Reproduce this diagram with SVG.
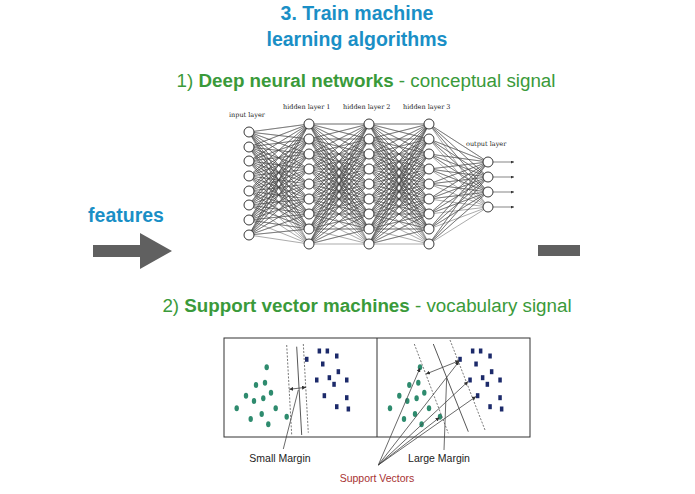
<svg xmlns="http://www.w3.org/2000/svg" xmlns:xlink="http://www.w3.org/1999/xlink" width="695" height="494" viewBox="0 0 695 494">
<style>
.t{font-family:"Liberation Sans",Arial,sans-serif}
.blue{fill:#1a8fc6;font-weight:bold}
.green{fill:#3a9a3a;font-size:18.8px}
.nn{fill:none;stroke:#444;stroke-width:0.45}
.nd{fill:#fff;stroke:#222;stroke-width:0.9}
.lbl{font-family:"DejaVu Serif",serif;font-size:6.5px;fill:#222}
.g{fill:#2e8b6e}
.b{fill:#1c2a6a}
.dash{stroke:#555;stroke-width:0.8;stroke-dasharray:2 1.5;fill:none}
.sol{stroke:#444;stroke-width:0.9;fill:none}
.ptr{stroke:#444;stroke-width:0.8;fill:none}
</style>
<defs>
<marker id="ah" viewBox="0 0 6 6" refX="6" refY="3" markerWidth="5" markerHeight="5" orient="auto-start-reverse"><path d="M0 0L6 3L0 6z" fill="#333"/></marker>
<path id="h2h" class="nn" d="M0 124L60 124 0 124 60 139 0 124 60 154 0 124 60 169 0 124 60 184 0 124 60 199 0 124 60 214 0 124 60 229 0 124 60 244
M0 139L60 124 0 139 60 139 0 139 60 154 0 139 60 169 0 139 60 184 0 139 60 199 0 139 60 214 0 139 60 229 0 139 60 244
M0 154L60 124 0 154 60 139 0 154 60 154 0 154 60 169 0 154 60 184 0 154 60 199 0 154 60 214 0 154 60 229 0 154 60 244
M0 169L60 124 0 169 60 139 0 169 60 154 0 169 60 169 0 169 60 184 0 169 60 199 0 169 60 214 0 169 60 229 0 169 60 244
M0 184L60 124 0 184 60 139 0 184 60 154 0 184 60 169 0 184 60 184 0 184 60 199 0 184 60 214 0 184 60 229 0 184 60 244
M0 199L60 124 0 199 60 139 0 199 60 154 0 199 60 169 0 199 60 184 0 199 60 199 0 199 60 214 0 199 60 229 0 199 60 244
M0 214L60 124 0 214 60 139 0 214 60 154 0 214 60 169 0 214 60 184 0 214 60 199 0 214 60 214 0 214 60 229 0 214 60 244
M0 229L60 124 0 229 60 139 0 229 60 154 0 229 60 169 0 229 60 184 0 229 60 199 0 229 60 214 0 229 60 229 0 229 60 244
M0 244L60 124 0 244 60 139 0 244 60 154 0 244 60 169 0 244 60 184 0 244 60 199 0 244 60 214 0 244 60 229 0 244 60 244"/>
<g id="hl">
<circle class="nd" cx="0" cy="124" r="5"/><circle class="nd" cx="0" cy="139" r="5"/><circle class="nd" cx="0" cy="154" r="5"/><circle class="nd" cx="0" cy="169" r="5"/><circle class="nd" cx="0" cy="184" r="5"/><circle class="nd" cx="0" cy="199" r="5"/><circle class="nd" cx="0" cy="214" r="5"/><circle class="nd" cx="0" cy="229" r="5"/><circle class="nd" cx="0" cy="244" r="5"/>
</g>
<g id="pts">
<ellipse class="g" cx="266.7" cy="367.3" rx="2.2" ry="3"/><ellipse class="g" cx="256" cy="385" rx="2.2" ry="3"/><ellipse class="g" cx="265" cy="382.7" rx="2.2" ry="3"/><ellipse class="g" cx="246" cy="395.7" rx="2.2" ry="3"/><ellipse class="g" cx="254" cy="401" rx="2.2" ry="3"/><ellipse class="g" cx="263.3" cy="398.3" rx="2.2" ry="3"/><ellipse class="g" cx="271" cy="392.7" rx="2.2" ry="3"/><ellipse class="g" cx="236.7" cy="408.3" rx="2.2" ry="3"/><ellipse class="g" cx="250.7" cy="419" rx="2.2" ry="3"/><ellipse class="g" cx="261.7" cy="414" rx="2.2" ry="3"/><ellipse class="g" cx="275.7" cy="408.3" rx="2.2" ry="3"/><ellipse class="g" cx="268.3" cy="424.3" rx="2.2" ry="3"/><ellipse class="g" cx="286.7" cy="416.7" rx="2.2" ry="3"/>
<rect class="b" x="305" y="356.8" width="3.5" height="5"/><rect class="b" x="317.6" y="348.5" width="3.5" height="5"/><rect class="b" x="325.6" y="348.5" width="3.5" height="5"/><rect class="b" x="335" y="353.5" width="3.5" height="5"/><rect class="b" x="321" y="361.5" width="3.5" height="5"/><rect class="b" x="336.6" y="369.2" width="3.5" height="5"/><rect class="b" x="327.6" y="375.2" width="3.5" height="5"/><rect class="b" x="315" y="377.5" width="3.5" height="5"/><rect class="b" x="332.3" y="381.8" width="3.5" height="5"/><rect class="b" x="345" y="377.5" width="3.5" height="5"/><rect class="b" x="322.6" y="393.2" width="3.5" height="5"/><rect class="b" x="345" y="395.2" width="3.5" height="5"/><rect class="b" x="335" y="404.2" width="3.5" height="5"/><rect class="b" x="346.6" y="406.5" width="3.5" height="5"/>
</g>
</defs>

<g id="title">
<text class="t blue" x="357" y="20" font-size="19.5" text-anchor="middle">3. Train machine</text>
<text class="t blue" x="357" y="46" font-size="19.5" text-anchor="middle">learning algorithms</text>
</g>
<g id="heading-dnn"><text class="t green" x="366" y="87" text-anchor="middle">1) <tspan font-weight="bold">Deep neural networks</tspan> - conceptual signal</text></g>
<g id="heading-svm"><text class="t green" x="367" y="312" text-anchor="middle">2) <tspan font-weight="bold">Support vector machines</tspan> - vocabulary signal</text></g>

<g id="features">
<text class="t blue" x="126" y="222" font-size="19.5" text-anchor="middle">features</text>
<path d="M93 245H140V233L172 251L140 269V257H93z" fill="#606060"/>
</g>
<g id="output-bar"><rect x="538" y="245" width="42" height="11" fill="#606060"/></g>

<g id="connectors">
<path class="nn" transform="translate(249,0)" d="M0 132L60 124 0 132 60 139 0 132 60 154 0 132 60 169 0 132 60 184 0 132 60 199 0 132 60 214 0 132 60 229 0 132 60 244
M0 147L60 124 0 147 60 139 0 147 60 154 0 147 60 169 0 147 60 184 0 147 60 199 0 147 60 214 0 147 60 229 0 147 60 244
M0 161L60 124 0 161 60 139 0 161 60 154 0 161 60 169 0 161 60 184 0 161 60 199 0 161 60 214 0 161 60 229 0 161 60 244
M0 176L60 124 0 176 60 139 0 176 60 154 0 176 60 169 0 176 60 184 0 176 60 199 0 176 60 214 0 176 60 229 0 176 60 244
M0 191L60 124 0 191 60 139 0 191 60 154 0 191 60 169 0 191 60 184 0 191 60 199 0 191 60 214 0 191 60 229 0 191 60 244
M0 205L60 124 0 205 60 139 0 205 60 154 0 205 60 169 0 205 60 184 0 205 60 199 0 205 60 214 0 205 60 229 0 205 60 244
M0 220L60 124 0 220 60 139 0 220 60 154 0 220 60 169 0 220 60 184 0 220 60 199 0 220 60 214 0 220 60 229 0 220 60 244
M0 235L60 124 0 235 60 139 0 235 60 154 0 235 60 169 0 235 60 184 0 235 60 199 0 235 60 214 0 235 60 229 0 235 60 244"/>
<use xlink:href="#h2h" href="#h2h" transform="translate(309,0)"/>
<use xlink:href="#h2h" href="#h2h" transform="translate(369,0)"/>
<path class="nn" transform="translate(429,0)" d="M0 124L59 162 0 124 59 177 0 124 59 192 0 124 59 207
M0 139L59 162 0 139 59 177 0 139 59 192 0 139 59 207
M0 154L59 162 0 154 59 177 0 154 59 192 0 154 59 207
M0 169L59 162 0 169 59 177 0 169 59 192 0 169 59 207
M0 184L59 162 0 184 59 177 0 184 59 192 0 184 59 207
M0 199L59 162 0 199 59 177 0 199 59 192 0 199 59 207
M0 214L59 162 0 214 59 177 0 214 59 192 0 214 59 207
M0 229L59 162 0 229 59 177 0 229 59 192 0 229 59 207
M0 244L59 162 0 244 59 177 0 244 59 192 0 244 59 207"/>
<g stroke="#333" stroke-width="0.6" marker-end="url(#ah)">
<path d="M493 162H514"/><path d="M493 177H514"/><path d="M493 192H514"/><path d="M493 207H514"/>
</g>
</g>

<g id="input-layer">
<circle class="nd" cx="249" cy="132" r="5"/><circle class="nd" cx="249" cy="147" r="5"/><circle class="nd" cx="249" cy="161" r="5"/><circle class="nd" cx="249" cy="176" r="5"/><circle class="nd" cx="249" cy="191" r="5"/><circle class="nd" cx="249" cy="205" r="5"/><circle class="nd" cx="249" cy="220" r="5"/><circle class="nd" cx="249" cy="235" r="5"/>
<text class="lbl" x="229" y="117">input layer</text>
</g>
<g id="hidden-layer-1"><use xlink:href="#hl" href="#hl" x="309"/><text class="lbl" x="283" y="109">hidden layer 1</text></g>
<g id="hidden-layer-2"><use xlink:href="#hl" href="#hl" x="369"/><text class="lbl" x="343" y="109">hidden layer 2</text></g>
<g id="hidden-layer-3"><use xlink:href="#hl" href="#hl" x="429"/><text class="lbl" x="403" y="109">hidden layer 3</text></g>
<g id="output-layer">
<circle class="nd" cx="488" cy="162" r="5"/><circle class="nd" cx="488" cy="177" r="5"/><circle class="nd" cx="488" cy="192" r="5"/><circle class="nd" cx="488" cy="207" r="5"/>
<text class="lbl" x="466" y="146">output layer</text>
</g>

<g id="svm">
<rect x="224" y="338" width="306" height="99" fill="#fff" stroke="#333" stroke-width="1"/>
<line x1="377" y1="338" x2="377" y2="437" stroke="#333" stroke-width="1"/>
<use xlink:href="#pts" href="#pts"/>
<use xlink:href="#pts" href="#pts" transform="translate(153.3,0)"/>
<path class="dash" d="M286.7 345L291.7 435M303.3 344L308.3 432.7"/>
<path class="sol" d="M296.7 346.7L301.7 435"/>
<path class="ptr" d="M289.3 389.3L306 387.3" marker-start="url(#ah)" marker-end="url(#ah)"/>
<path class="ptr" d="M283.3 449L298.3 390"/>
<path class="dash" d="M414.3 344L448.3 433.3M450 340L485 430"/>
<path class="sol" d="M433.3 344L468.3 431.7"/>
<path class="ptr" d="M426 374L459.3 360.7" marker-start="url(#ah)" marker-end="url(#ah)"/>
<path class="ptr" d="M444 450L446.7 376.7"/>
<g class="ptr" marker-end="url(#ah)">
<path d="M378.3 465L420 368"/><path d="M378.3 465L459 361.5"/><path d="M378.3 465L468 381.5"/><path d="M378.3 465L476 396.5"/><path d="M378.3 465L439.5 417.5"/>
</g>
<text class="t" x="280" y="462" font-size="10.5" text-anchor="middle" fill="#222">Small Margin</text>
<text class="t" x="439" y="462" font-size="10.5" text-anchor="middle" fill="#222">Large Margin</text>
<text class="t" x="377" y="482" font-size="10.5" text-anchor="middle" fill="#a83232">Support Vectors</text>
</g>
</svg>
